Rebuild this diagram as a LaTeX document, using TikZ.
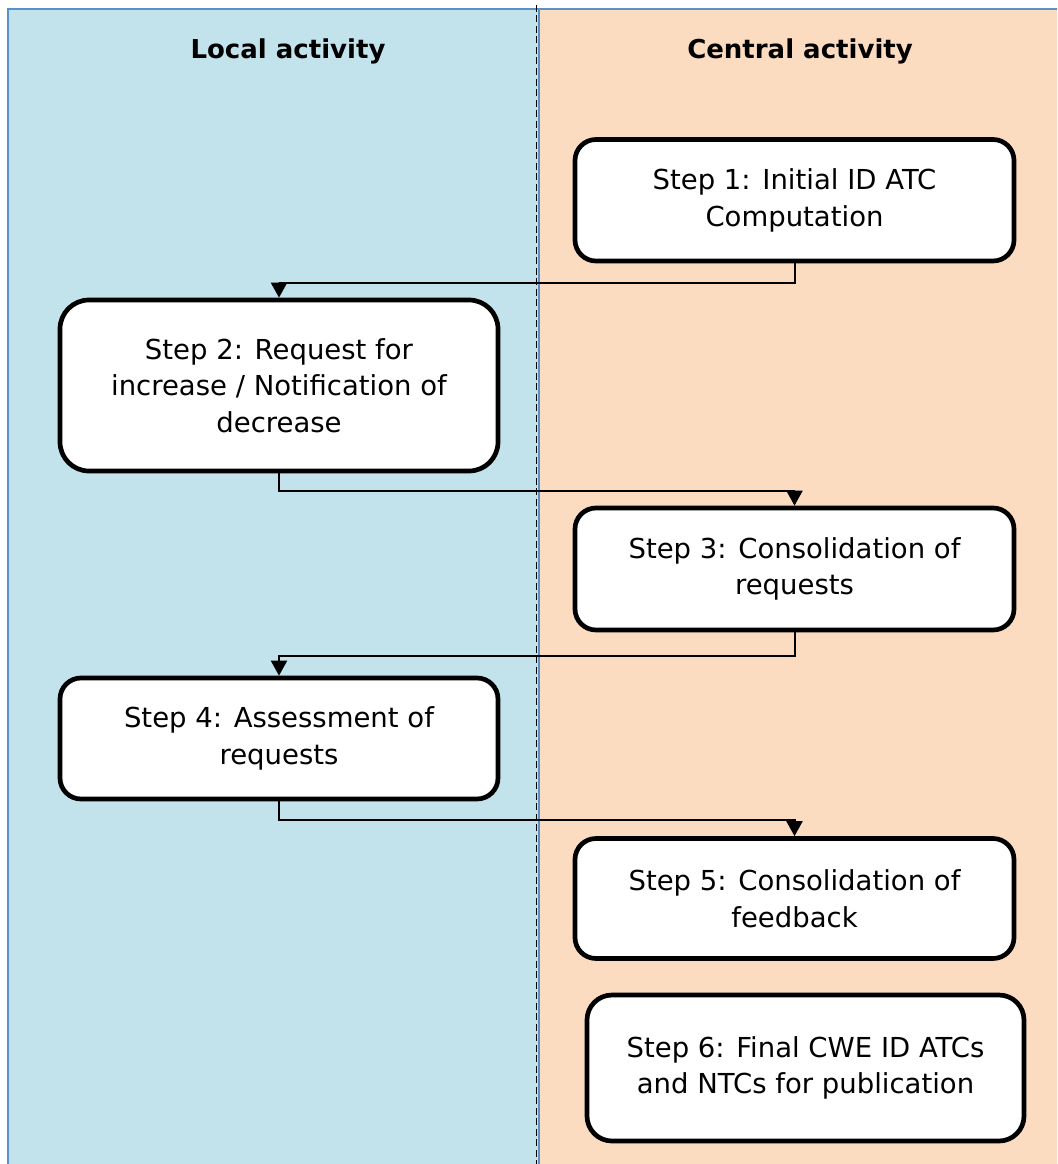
\documentclass[tikz,border=0pt]{standalone}
\usepackage{fontspec}
\setmainfont{DejaVu Sans}
\usetikzlibrary{arrows.meta}
\definecolor{lanefill}{RGB}{194,227,236}
\definecolor{centralfill}{RGB}{251,220,193}
\definecolor{laneborder}{RGB}{91,143,201}
\tikzset{
  stepbox/.style={draw=black, fill=white, line width=4.7pt, align=center,
    inner sep=0pt, font=\fontsize{27.5}{36.5}\selectfont, text=black},
  conn/.style={draw=black, line width=2pt, -{Triangle[length=15pt,width=16pt]}},
  lanetitle/.style={font=\fontsize{26}{30}\bfseries\selectfont, text=black, anchor=base}
}
\begin{document}
\begin{tikzpicture}[x=1pt,y=-1pt]
\useasboundingbox (0,0) rectangle (1057,1164);
\begin{scope}
\clip (0,0) rectangle (1057,1164);
\fill[white] (0,0) rectangle (1057,1164);
\draw[laneborder, fill=centralfill, line width=2pt] (539,9.5) rectangle (1080,1190);
\draw[laneborder, fill=lanefill, line width=2pt] (7.5,9.5) rectangle (539,1190);
\draw[black, line width=1.8pt, dash pattern=on 7pt off 3.5pt] (536.5,5) -- (536.5,1170);
\end{scope}

\node[lanetitle] (tl) at (288,58.3) {Local activity};
\node[lanetitle] (tc) at (800,58.3) {Central activity};

\node[stepbox, minimum width=439pt, minimum height=121.5pt, rounded corners=21pt] (s1) at (794.5,200.25)
  {Step 1: Initial ID ATC\\Computation};
\node[stepbox, minimum width=438pt, minimum height=171pt, rounded corners=29pt] (s2) at (279,385.5)
  {Step 2: Request for\\increase / Notification of\\decrease};
\node[stepbox, minimum width=439pt, minimum height=122pt, rounded corners=21pt] (s3) at (794.5,569)
  {Step 3: Consolidation of\\requests};
\node[stepbox, minimum width=438pt, minimum height=121pt, rounded corners=21pt] (s4) at (279,738.5)
  {Step 4: Assessment of\\requests};
\node[stepbox, minimum width=439pt, minimum height=120pt, rounded corners=21pt] (s5) at (794.5,898.5)
  {Step 5: Consolidation of\\feedback};
\node[stepbox, minimum width=437pt, minimum height=146pt, rounded corners=25pt] (s6) at (805.5,1068)
  {Step 6: Final CWE ID ATCs\\and NTCs for publication};

\draw[conn] (s1.south) -- ++(0,20) -| (s2.north);
\draw[conn] (s2.south) -- ++(0,18) -| (s3.north);
\draw[conn] (s3.south) -- ++(0,24) -| (s4.north);
\draw[conn] (s4.south) -- ++(0,19) -| (s5.north);
\end{tikzpicture}
\end{document}
